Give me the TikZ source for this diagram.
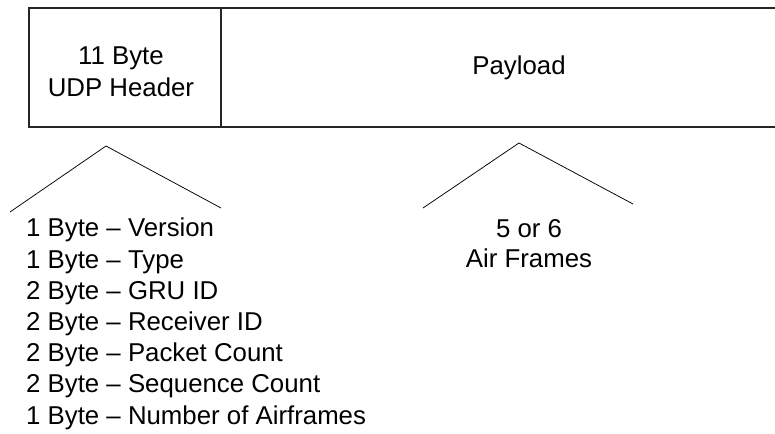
\documentclass[tikz,border=0pt]{standalone}
\usepackage{fontspec}
\setmainfont{Liberation Sans}
\begin{document}
\begin{tikzpicture}[x=1pt,y=-1pt,
  cell/.style={draw=black!85, line width=1.2pt, rectangle, inner sep=0pt},
  lbl/.style={inner sep=0pt, align=center},
  wedge/.style={draw=black, line width=0.75pt}]
\useasboundingbox (0,0) rectangle (775,433);
\clip (0,0) rectangle (775,433);

% packet layout: header cell and payload cell (payload runs past the right edge)
\node[cell, minimum width=192pt, minimum height=119pt] (hdr) at (125,67.5) {};
\node[cell, minimum width=596pt, minimum height=119pt] (pay) at (519,67.5) {};

\node[lbl, anchor=north, font=\fontsize{25.8}{32}\selectfont] (hdrtxt) at (121,46.5) {11 Byte\\UDP Header};
\node[lbl, anchor=base, font=\fontsize{25.8}{31}\selectfont] (paytxt) at (519,75) {Payload};

% expansion wedges
\coordinate (hdrtop) at (106,146);
\coordinate (hdrl) at (10,212);
\coordinate (hdrr) at (221,208);
\coordinate (paytop) at (519,143);
\coordinate (payl) at (423,208);
\coordinate (payr) at (633,204);
\draw[wedge] (hdrl) -- (hdrtop) -- (hdrr);
\draw[wedge] (payl) -- (paytop) -- (payr);

% header field breakdown
\node[lbl, align=left, anchor=north west, font=\fontsize{25.8}{31.2}\selectfont] (fields) at (26,218)
  {1 Byte – Version\\
   1 Byte – Type\\
   2 Byte – GRU ID\\
   2 Byte – Receiver ID\\
   2 Byte – Packet Count\\
   2 Byte – Sequence Count\\
   1 Byte – Number of Airframes};

% payload contents
\node[lbl, anchor=north, font=\fontsize{25.8}{30}\selectfont] (frames) at (529,218.8) {5 or 6\\Air Frames};
\end{tikzpicture}
\end{document}
